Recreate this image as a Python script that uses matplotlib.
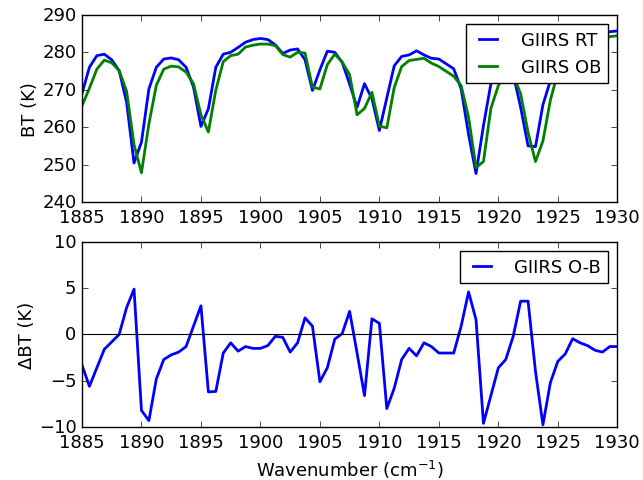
import numpy as np
import matplotlib
matplotlib.use('Agg')
import matplotlib.pyplot as plt

plt.style.use('classic')
plt.rcParams['font.size'] = 13
plt.rcParams['mathtext.fontset'] = 'dejavusans'
plt.rcParams['mathtext.default'] = 'regular'

# GIIRS channels, 0.625 cm-1 sampling
wn = np.linspace(1885, 1930, 73)

bt_rt = [269.0, 276.0, 279.1, 279.5, 278.0, 275.1, 266.7, 250.4, 256.0, 270.2,
         276.0, 278.2, 278.5, 278.0, 276.0, 270.7, 260.2, 264.9, 276.0, 279.5,
         280.0, 281.3, 282.7, 283.4, 283.7, 283.4, 282.0, 279.7, 280.6, 280.9,
         278.0, 269.8, 275.3, 280.3, 280.0, 277.3, 271.5, 265.3, 271.6, 267.6,
         259.1, 267.8, 276.4, 278.9, 279.3, 280.4, 279.3, 278.4, 278.2, 276.9,
         275.6, 270.2, 258.0, 247.6, 260.4, 271.6, 274.7, 277.5, 274.2, 265.3,
         255.0, 254.8, 266.0, 272.4, 277.5, 280.0, 282.0, 283.0, 284.0, 284.5,
         285.0, 285.5, 285.7]

bt_ob = [265.7, 270.4, 275.5, 277.9, 277.2, 275.1, 269.6, 255.3, 247.8, 260.9,
         271.2, 275.5, 276.3, 276.1, 274.7, 271.6, 263.3, 258.7, 269.9, 277.5,
         279.1, 279.5, 281.4, 281.9, 282.2, 282.2, 281.8, 279.4, 278.7, 280.0,
         279.8, 270.7, 270.2, 276.7, 279.5, 277.4, 274.0, 263.3, 265.0, 269.3,
         260.3, 259.8, 270.6, 276.2, 277.8, 278.1, 278.4, 277.1, 276.2, 274.9,
         273.6, 271.1, 262.6, 249.2, 250.8, 265.0, 271.1, 274.8, 274.0, 268.9,
         258.6, 250.8, 256.3, 267.2, 274.6, 277.9, 281.5, 282.1, 282.8, 282.8,
         283.1, 284.2, 284.4]

omb = [-3.3, -5.6, -3.6, -1.6, -0.8, 0.0, 2.9, 4.9, -8.2, -9.3,
       -4.8, -2.7, -2.2, -1.9, -1.3, 0.9, 3.1, -6.2, -6.15, -2.0,
       -0.9, -1.8, -1.3, -1.5, -1.5, -1.2, -0.2, -0.3, -1.9, -0.9,
       1.8, 0.9, -5.1, -3.6, -0.5, 0.1, 2.5, -2.0, -6.6, 1.7,
       1.2, -8.0, -5.8, -2.7, -1.5, -2.3, -0.9, -1.3, -2.0, -2.0,
       -2.0, 0.9, 4.6, 1.6, -9.6, -6.6, -3.6, -2.7, -0.2, 3.6,
       3.6, -4.0, -9.75, -5.2, -2.9, -2.1, -0.45, -0.9, -1.2, -1.7,
       -1.9, -1.3, -1.3]

fig = plt.figure(figsize=(6.43, 4.81), dpi=100)
fig.patch.set_facecolor('white')

leg_kw = dict(loc='upper right', fontsize=13, handlelength=1.6,
              handletextpad=1.0, borderaxespad=0.5)

ax1 = fig.add_axes([0.1275, 0.578, 0.8325, 0.389])
ax1.plot(wn, bt_rt, 'b', lw=2, label='GIIRS RT')
ax1.plot(wn, bt_ob, 'g', lw=2, label='GIIRS OB')
ax1.set_xlim(1885, 1930)
ax1.set_ylim(240, 290)
ax1.set_xticks(np.arange(1885, 1931, 5))
ax1.set_ylabel('BT (K)', labelpad=2)
ax1.legend(**leg_kw)

ax2 = fig.add_axes([0.1275, 0.110, 0.8325, 0.385])
ax2.plot(wn, omb, 'b', lw=2, label='GIIRS O-B')
ax2.axhline(0, color='k', lw=0.8)
ax2.set_xlim(1885, 1930)
ax2.set_ylim(-10, 10)
ax2.set_xticks(np.arange(1885, 1931, 5))
ax2.set_yticks([-10, -5, 0, 5, 10])
ax2.set_ylabel('\u0394BT (K)', labelpad=2)
ax2.set_xlabel('Wavenumber (cm$^{-1}$)')
ax2.legend(**leg_kw)

fig.savefig('out.png', dpi=100, facecolor='white')
